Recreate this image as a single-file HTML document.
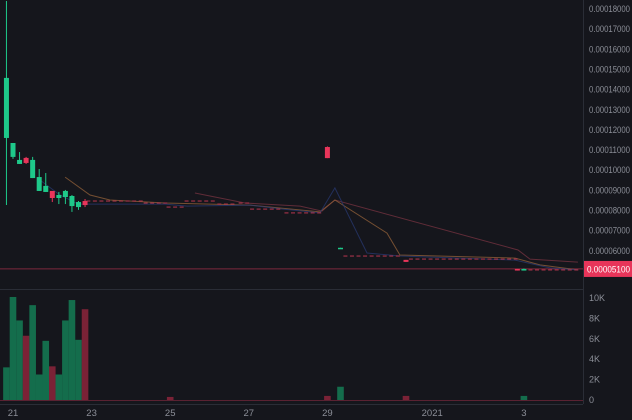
<!DOCTYPE html>
<html><head><meta charset="utf-8">
<style>
html,body{margin:0;padding:0;background:#15161c;}
#c{position:relative;width:632px;height:420px;overflow:hidden;font-family:"Liberation Sans",sans-serif;}
svg{position:absolute;left:0;top:0;}
</style></head>
<body>
<div id="c">
<svg id="s" width="632" height="420" xmlns="http://www.w3.org/2000/svg"></svg>
</div>
<script>
// price in 1e-5 units, time in hours since Dec 21 00:00
const candleHours=[-4,0,4,8,12,16,20,24,28,32,36,40,44,192,200,240,308,312];
const opens =[11.60,10.66,10.31,10.61,9.61,8.97,8.92,8.97,8.62,8.67,8.22,8.17,8.47,11.15,6.10,5.55,5.10,5.02];
const highs =[18.40,11.35,10.90,10.66,10.66,10.06,9.86,8.97,8.92,9.02,8.77,8.47,8.57,11.18,6.15,5.55,5.10,5.12];
const lows  =[8.27,10.56,10.31,10.31,9.61,8.97,8.92,8.42,8.32,8.32,7.93,8.03,8.17,10.60,6.10,5.45,5.02,5.02];
const closes=[14.58,11.35,10.51,10.36,10.51,9.66,9.22,8.62,8.77,8.97,8.72,8.42,8.27,10.60,6.15,5.45,5.02,5.10];
const volumes=[3.2,10.1,7.8,6.3,9.3,2.5,5.8,3.3,2.5,7.8,9.8,5.9,8.9,0.3,0.4,1.3,0.4,0.4];
const volHours=[-4,0,4,8,12,16,20,24,28,32,36,40,44,96,192,200,240,312];
const volUp=[1,1,1,0,1,1,1,0,1,1,1,1,0,0,0,1,0,1];
// flat doji segments: start hour, end hour, price
const dojiStart=[46,81,95,106,126,139,146,167,203,243,316];
const dojiEnd  =[81,93,106,125,137,145,165,189,236,307,345];
const dojiPrice=[8.47,8.37,8.17,8.47,8.32,8.37,8.07,7.88,5.74,5.59,5.05];
const maFastH=[16.5,28.7,39.7,45.8,92.8,106.3,144.7,164.9,187.5,196.6,216.2,236.3,306.6,327.9,345];
const maFastP=[9.51,8.77,8.32,8.32,8.32,8.22,8.27,8.07,7.88,9.12,5.89,5.74,5.54,5.15,5.05];
const maMidH=[31.8,47.0,59.2,92.8,144.7,187.5,196.6,228.4,236.3,306.6,321.8,345];
const maMidP=[9.66,8.77,8.52,8.37,8.27,7.93,8.52,6.88,5.79,5.64,5.30,5.05];
const maSlowH=[111.1,141.7,175.3,188.7,196.6,308.4,315.7,345];
const maSlowP=[8.87,8.37,8.22,7.97,8.52,6.04,5.59,5.44];
const priceTicks=[18,17,16,15,14,13,12,11,10,9,8,7,6];
const priceLabels=["0.00018000","0.00017000","0.00016000","0.00015000","0.00014000","0.00013000","0.00012000","0.00011000","0.00010000","0.00009000","0.00008000","0.00007000","0.00006000"];
const lastPrice=5.1;
const lastLabel="0.00005100";
const volTicks=[10,8,6,4,2,0];
const volLabels=["10K","8K","6K","4K","2K","0"];
const timeTicks=[0,48,96,144,192,256,312];
const timeLabels=["21","23","25","27","29","2021","3"];

const NS="http://www.w3.org/2000/svg";
const s=document.getElementById('s');
const X=h=>13+h/24*39.3;
const Y=p=>9+(18-p)*20.15;
const VY=v=>400-v*10.2;
function el(t,a,parent){const e=document.createElementNS(NS,t);for(const k in a)e.setAttribute(k,a[k]);(parent||s).appendChild(e);return e;}
const UP="#1ec98a",DN="#e8355a",VUP="#146d4c",VDN="#7a2236";

// borders
let e;
e=el('line',{x1:583.5,y1:0,x2:583.5,y2:404,stroke:'#2a2d36','stroke-width':1});

e=el('line',{x1:0,y1:289.5,x2:583,y2:289.5,stroke:'#2a2d36','stroke-width':1});

e=el('line',{x1:0,y1:404.5,x2:583,y2:404.5,stroke:'#2a2d36','stroke-width':1});


// price axis labels
priceTicks.forEach((p,i)=>{
  const t=el('text',{x:589,y:Y(p)+3,fill:'#8b8e97','font-size':'9',textLength:'41',lengthAdjust:'spacingAndGlyphs'});t.textContent=priceLabels[i];
  
  
});
volTicks.forEach((v,i)=>{
  const t=el('text',{x:589,y:VY(v)+3,fill:'#8b8e97','font-size':'9'});t.textContent=volLabels[i];
  
  
});
timeTicks.forEach((h,i)=>{
  const t=el('text',{x:X(h),y:416,fill:'#8b8e97','font-size':'9.5','text-anchor':'middle'});t.textContent=timeLabels[i];
  
  
});

// last price line
e=el('line',{x1:0,y1:Y(lastPrice),x2:583,y2:Y(lastPrice),stroke:'#a8304c','stroke-width':1,opacity:0.7});

e=el('line',{x1:0,y1:400.5,x2:583,y2:400.5,stroke:'#5a2232','stroke-width':1});


// volume bars
volumes.forEach((v,i)=>{
  const x=X(volHours[i]);
  const r=el('rect',{x:x-3.3,y:VY(v),width:6.6,height:v*10.2,fill:volUp[i]?VUP:VDN});
  
  
});

// MA lines
function line(H,P,color,name){
  const d=H.map((h,i)=>(i?'L':'M')+X(h).toFixed(1)+' '+Y(P[i]).toFixed(1)).join(' ');
  const p=el('path',{d:d,fill:'none',stroke:color,'stroke-width':1,opacity:0.75});
  
  
}
line(maSlowH,maSlowP,'#7a3442','ma-slow-line');
line(maMidH,maMidP,'#96633a','ma-mid-line');
line(maFastH,maFastP,'#283a72','ma-fast-line');

// doji candles
dojiStart.forEach((h0,i)=>{
  for(let h=h0;h<=dojiEnd[i];h+=4){
    const r=el('rect',{x:X(h)-2,y:Y(dojiPrice[i])-0.5,width:4,height:1,fill:'#b8364f'});
    
    
  }
});

// candles
candleHours.forEach((h,i)=>{
  const x=X(h),up=closes[i]>=opens[i],c=up?UP:DN;
  const g=el('g',{});
  
  
  el('line',{x1:x,y1:Y(highs[i]),x2:x,y2:Y(lows[i]),stroke:c,'stroke-width':1},g);
  const top=Y(Math.max(opens[i],closes[i])),bot=Y(Math.min(opens[i],closes[i]));
  el('rect',{x:x-2.5,y:top,width:5,height:Math.max(1.5,bot-top),fill:c},g);
});

// last price label
e=el('rect',{x:584,y:Y(lastPrice)-8,width:48,height:16,fill:'#e8355a'});

const lt=el('text',{x:587,y:Y(lastPrice)+3.5,fill:'#ffffff','font-size':'9.5',textLength:'43',lengthAdjust:'spacingAndGlyphs'});lt.textContent=lastLabel;


</script>
</body></html>
